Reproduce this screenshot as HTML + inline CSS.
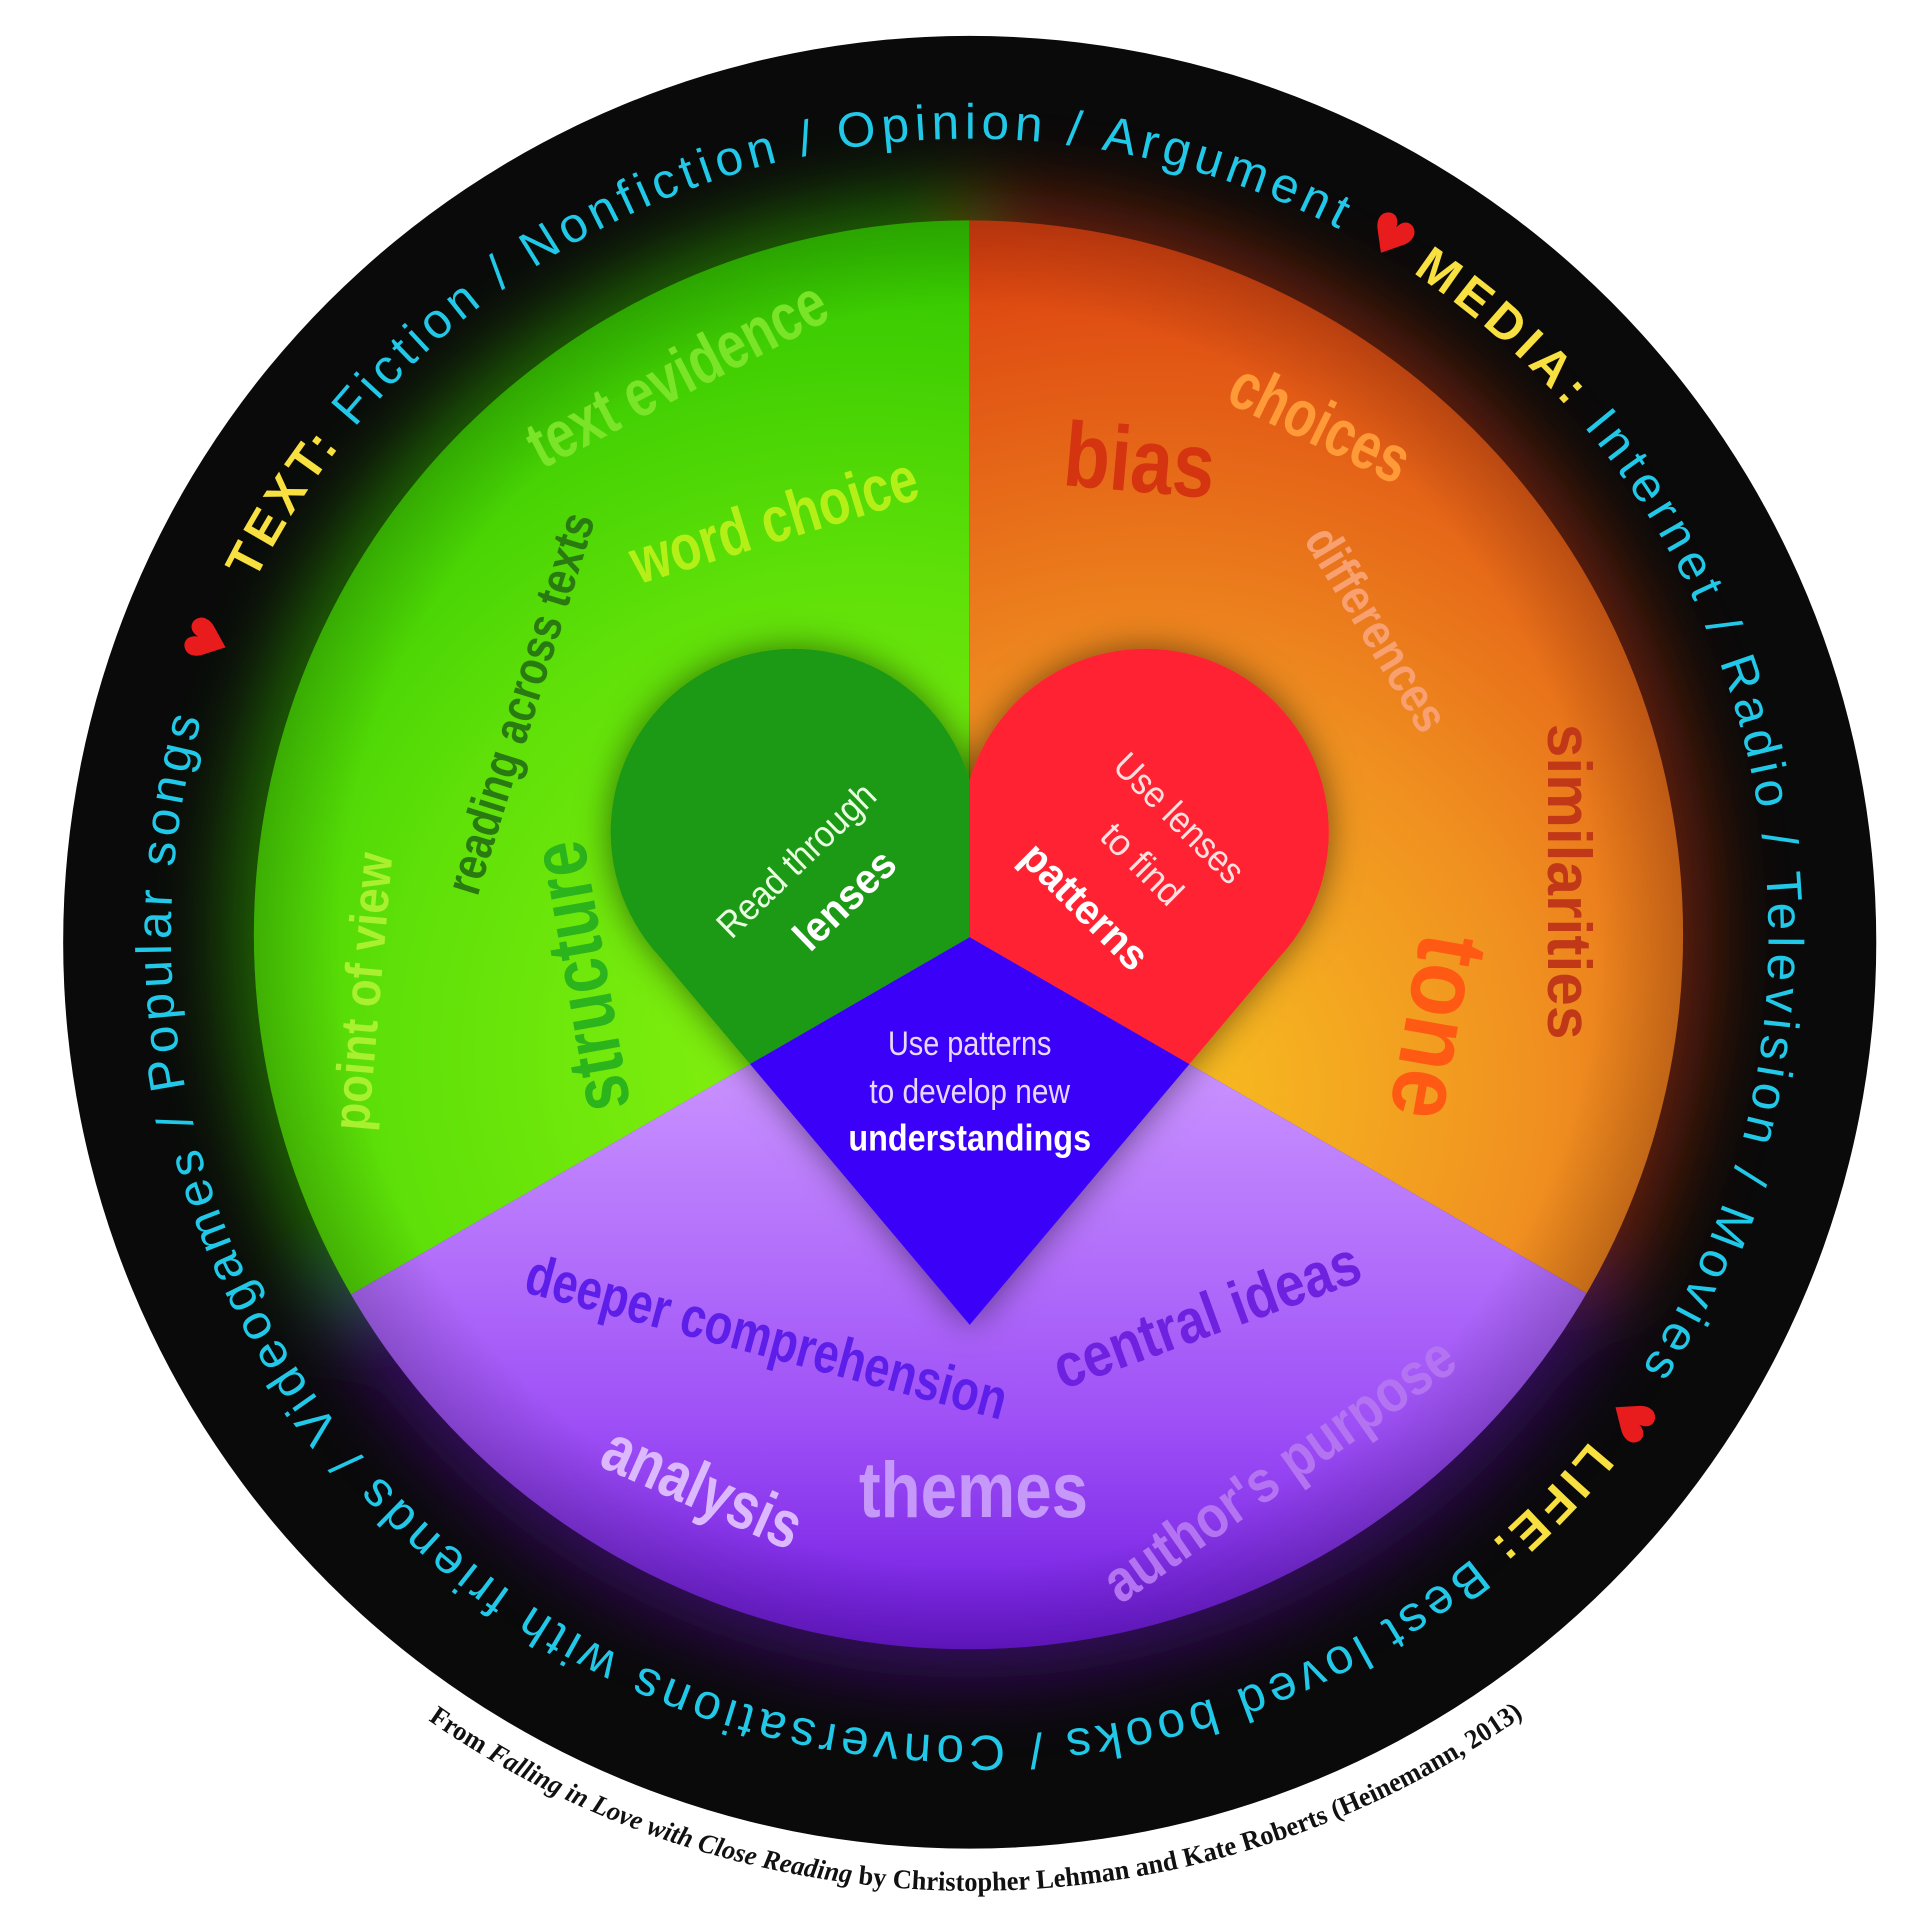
<!DOCTYPE html>
<html><head><meta charset="utf-8"><style>html,body{margin:0;padding:0;background:#fff}svg{display:block}</style></head>
<body>
<svg xmlns="http://www.w3.org/2000/svg" width="1932" height="1913" viewBox="0 0 1560 1545" preserveAspectRatio="none">
<defs>
  <clipPath id="cg"><polygon points="783,757 783,-3000 -3027,-3000 -3027,2957"/></clipPath>
  <clipPath id="co"><polygon points="783,757 783,-3000 4593,-3000 4593,2957"/></clipPath>
  <clipPath id="cp"><polygon points="783,757 -3027,2957 4593,2957"/></clipPath>
  <radialGradient id="gg" cx="700" cy="850" r="650" gradientUnits="userSpaceOnUse">
    <stop offset="0" stop-color="#8cf410"/><stop offset="0.6" stop-color="#5ee008"/><stop offset="1" stop-color="#34c800"/>
  </radialGradient>
  <radialGradient id="go" cx="930" cy="880" r="700" gradientUnits="userSpaceOnUse">
    <stop offset="0" stop-color="#f8c020"/><stop offset="0.45" stop-color="#f09020"/><stop offset="1" stop-color="#dc4010"/>
  </radialGradient>
  <linearGradient id="gp" x1="0" y1="870" x2="0" y2="1335" gradientUnits="userSpaceOnUse">
    <stop offset="0" stop-color="#c890ff"/><stop offset="0.6" stop-color="#9e50f6"/><stop offset="1" stop-color="#7018e0"/>
  </linearGradient>
  <radialGradient id="edge" cx="782" cy="755" r="577" gradientUnits="userSpaceOnUse">
    <stop offset="0.88" stop-color="#000" stop-opacity="0"/><stop offset="1" stop-color="#000" stop-opacity="0.18"/>
  </radialGradient>
  <filter id="blur" x="-30%" y="-30%" width="160%" height="160%"><feGaussianBlur stdDeviation="30"/></filter>
  <filter id="sh" x="-30%" y="-30%" width="160%" height="160%"><feDropShadow dx="0" dy="0" stdDeviation="14" flood-color="#000" flood-opacity="0.5"/></filter>
  <path id="ring" d="M138,757 A645,645 0 1 1 1428,757 A645,645 0 1 1 138,757 A645,645 0 1 1 1428,757 A645,645 0 1 1 138,757"/>
  <path id="cap" d="M344,1388 A770,770 0 0 0 1234,1383"/>
</defs>

<rect width="1560" height="1545" fill="#fff"/>
<circle cx="783" cy="761" r="732" fill="#0a0a0a"/>

<g filter="url(#blur)" opacity="0.55">
  <circle cx="782" cy="755" r="600" fill="#30b000" clip-path="url(#cg)"/>
  <circle cx="782" cy="755" r="600" fill="#b03010" clip-path="url(#co)"/>
  <circle cx="782" cy="755" r="600" fill="#5a10a8" clip-path="url(#cp)"/>
</g>

<circle cx="782" cy="755" r="577" fill="url(#gg)" clip-path="url(#cg)"/>
<circle cx="782" cy="755" r="577" fill="url(#go)" clip-path="url(#co)"/>
<circle cx="782" cy="755" r="577" fill="url(#gp)" clip-path="url(#cp)"/>
<circle cx="782" cy="755" r="577" fill="url(#edge)"/>

<g font-family="'Liberation Sans', sans-serif" font-weight="bold" text-anchor="middle">
  <text transform="translate(555,318) rotate(-27.5)" font-size="54" fill="#7ae428" textLength="265" lengthAdjust="spacingAndGlyphs">text evidence</text>
  <text transform="translate(630,437) rotate(-17)" font-size="52" fill="#b4f018" textLength="240" lengthAdjust="spacingAndGlyphs">word choice</text>
  <text transform="translate(433,572) rotate(-72.7)" font-size="40" fill="#2a7a12" textLength="320" lengthAdjust="spacingAndGlyphs">reading across texts</text>
  <text transform="translate(307,802) rotate(-85)" font-size="42" fill="#a8f030" textLength="225" lengthAdjust="spacingAndGlyphs">point of view</text>
  <text transform="translate(490,785) rotate(-100)" font-size="64" fill="#2cb41c" textLength="220" lengthAdjust="spacingAndGlyphs">structure</text>
  <text transform="translate(918,397) rotate(5)" font-size="74" fill="#d43410" textLength="122" lengthAdjust="spacingAndGlyphs">bias</text>
  <text transform="translate(1058,358) rotate(26)" font-size="54" fill="#ff9a38" textLength="155" lengthAdjust="spacingAndGlyphs">choices</text>
  <text transform="translate(1100,515) rotate(59)" font-size="40" fill="#f8a070" textLength="185" lengthAdjust="spacingAndGlyphs">differences</text>
  <text transform="translate(1250,712) rotate(90)" font-size="50" fill="#c03818" textLength="255" lengthAdjust="spacingAndGlyphs">similarities</text>
  <text transform="translate(1135,825) rotate(100)" font-size="80" fill="#ff5a14" textLength="150" lengthAdjust="spacingAndGlyphs">tone</text>
  <text transform="translate(615,1095) rotate(15)" font-size="46" fill="#5c1ee8" textLength="400" lengthAdjust="spacingAndGlyphs">deeper comprehension</text>
  <text transform="translate(980,1078) rotate(-20)" font-size="50" fill="#6e22e0" textLength="260" lengthAdjust="spacingAndGlyphs">central ideas</text>
  <text transform="translate(560,1218) rotate(24)" font-size="54" fill="#dcb8ff" textLength="170" lengthAdjust="spacingAndGlyphs">analysis</text>
  <text transform="translate(786,1225)" font-size="64" fill="#c698fa" textLength="185" lengthAdjust="spacingAndGlyphs">themes</text>
  <text transform="translate(1042,1200) rotate(-35)" font-size="48" fill="#b474f2" textLength="335" lengthAdjust="spacingAndGlyphs">author's purpose</text>
</g>

<g filter="url(#sh)">
  <path d="M783,1070 L532,772 A148,148 0 1 1 783,630 A148,148 0 1 1 1034,772 Z" fill="#1a9a12" clip-path="url(#cg)"/>
  <path d="M783,1070 L532,772 A148,148 0 1 1 783,630 A148,148 0 1 1 1034,772 Z" fill="#ff2030" clip-path="url(#co)"/>
  <path d="M783,1070 L532,772 A148,148 0 1 1 783,630 A148,148 0 1 1 1034,772 Z" fill="#3a04f8" clip-path="url(#cp)"/>
</g>

<g font-family="'Liberation Sans', sans-serif" fill="#fff" text-anchor="middle">
  <text transform="translate(650,702) rotate(-44)" font-size="30" fill="#e8ffe0" textLength="165" lengthAdjust="spacingAndGlyphs">Read through</text>
  <text transform="translate(690,735) rotate(-44)" font-size="34" font-weight="bold" textLength="100" lengthAdjust="spacingAndGlyphs">lenses</text>
  <text transform="translate(945,668) rotate(45)" font-size="30" fill="#ffe0e0" textLength="135" lengthAdjust="spacingAndGlyphs">Use lenses</text>
  <text transform="translate(915,705) rotate(45)" font-size="30" fill="#ffe0e0" textLength="80" lengthAdjust="spacingAndGlyphs">to find</text>
  <text transform="translate(868,740) rotate(45)" font-size="34" font-weight="bold" textLength="130" lengthAdjust="spacingAndGlyphs">patterns</text>
  <text x="783" y="852" font-size="28" fill="#e8d8ff" textLength="132" lengthAdjust="spacingAndGlyphs">Use patterns</text>
  <text x="783" y="891" font-size="28" fill="#e8d8ff" textLength="162" lengthAdjust="spacingAndGlyphs">to develop new</text>
  <text x="783" y="929" font-size="30" font-weight="bold" textLength="196" lengthAdjust="spacingAndGlyphs">understandings</text>
</g>

<g font-family="'Liberation Sans', sans-serif" font-size="40" fill="#22c8e8">
  <text><textPath href="#ring" startOffset="298" textLength="1025" lengthAdjust="spacing"><tspan fill="#f8e040" font-weight="bold">TEXT:</tspan> Fiction / Nonfiction / Opinion / Argument</textPath></text>
  <text><textPath href="#ring" startOffset="1392" textLength="1002" lengthAdjust="spacing"><tspan fill="#f8e040" font-weight="bold">MEDIA:</tspan> Internet / Radio / Television / Movies</textPath></text>
  <text><textPath href="#ring" startOffset="2466" textLength="1765" lengthAdjust="spacing"><tspan fill="#f8e040" font-weight="bold">LIFE:</tspan> Best loved books / Conversations with friends / Videogames / Popular songs</textPath></text>
  <g fill="#e81c1c" font-size="44" text-anchor="middle" font-family="'DejaVu Sans', sans-serif">
    <text><textPath href="#ring" startOffset="1362">♥</textPath></text>
    <text><textPath href="#ring" startOffset="2432">♥</textPath></text>
    <text><textPath href="#ring" startOffset="4292">♥</textPath></text>
  </g>
</g>

<text font-family="'Liberation Serif', serif" font-size="22" font-weight="bold" fill="#111"><textPath href="#cap" startOffset="2" textLength="942" lengthAdjust="spacingAndGlyphs">From <tspan font-style="italic">Falling in Love with Close Reading</tspan> by Christopher Lehman and Kate Roberts (Heinemann, 2013)</textPath></text>
</svg>
</body></html>
